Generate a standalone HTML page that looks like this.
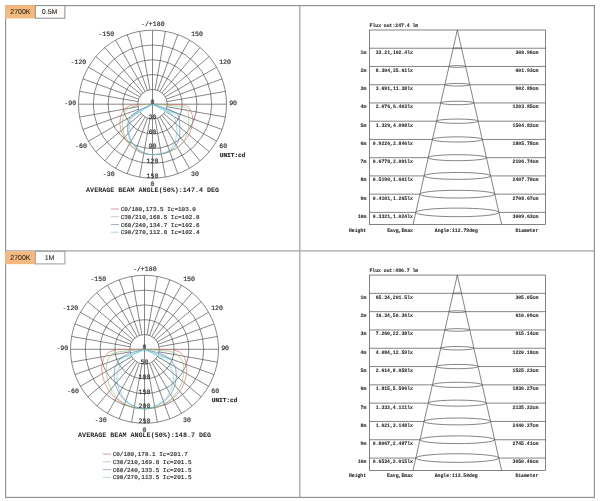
<!DOCTYPE html>
<html lang="en">
<head>
<meta charset="utf-8">
<title>Photometric data</title>
<style>
html,body{margin:0;padding:0;background:#fff;}
body{width:600px;height:501px;position:relative;overflow:hidden;font-family:"Liberation Sans",sans-serif;}
svg .tg text{font-family:"Liberation Sans",sans-serif;font-size:7px;text-anchor:middle;fill:#3a3026;stroke:#3a3026;stroke-width:0.12px;}
svg{position:absolute;left:0;top:0;}
svg text{font-family:"Liberation Mono",monospace;fill:#2a2a2a;text-rendering:geometricPrecision;}
.al text{font-size:6.6px;text-anchor:middle;stroke:#2a2a2a;stroke-width:0.15px;}
.b{font-weight:bold;}
.unit{font-size:6.1px;text-anchor:middle;stroke:#2a2a2a;stroke-width:0.2px;}
.beam{font-size:6.72px;text-anchor:middle;}
.lg text{font-size:5.98px;stroke:#2a2a2a;stroke-width:0.15px;}
.ct text{font-size:5.2px;font-weight:bold;stroke:#2a2a2a;stroke-width:0.1px;}
.ct .e{text-anchor:end;}
</style>
</head>
<body>
<svg width="600" height="501" viewBox="0 0 600 501">
<g class="fr" fill="none">
<rect x="5.6" y="5.6" width="588.8" height="491.8" stroke="#8a8a8a" stroke-width="1.1"/>
<path stroke="#a6a6a6" stroke-width="1.3" d="M299.8 6V497M6 250.9H594"/>
<rect x="5.1" y="5.1" width="30.2" height="13.3" fill="#f5b97f"/>
<rect x="35.3" y="5.6" width="29.6" height="12.6" fill="#fff" stroke="#8a8a8a" stroke-width="1"/>
<rect x="5.1" y="251.3" width="30.2" height="12.9" fill="#f5b97f"/>
<rect x="35.3" y="251.3" width="29.6" height="12.6" fill="#fff" stroke="#9a9a9a" stroke-width="1"/>
</g>
<g class="tg">
<text x="20.4" y="14.2">2700K</text>
<text x="49.6" y="14.2">0.5M</text>
<text x="20.4" y="259.9">2700K</text>
<text x="49.6" y="259.9">1M</text>
</g>
<g class="pg" fill="none" stroke="#444444" stroke-width="0.64">
<circle cx="152.5" cy="104.2" r="14.8"/>
<circle cx="152.5" cy="104.2" r="29.6"/>
<circle cx="152.5" cy="104.2" r="44.4"/>
<circle cx="152.5" cy="104.2" r="59.2"/>
<circle cx="152.5" cy="104.2" r="74"/>
<path d="M152.5 104.2L226.5 104.2M167.08 106.77L225.38 117.05M166.41 109.26L222.04 129.51M165.32 111.6L216.59 141.2M163.84 113.71L209.19 151.77M162.01 115.54L200.07 160.89M159.9 117.02L189.5 168.29M157.56 118.11L177.81 173.74M155.07 118.78L165.35 177.08M152.5 104.2L152.5 178.2M149.93 118.78L139.65 177.08M147.44 118.11L127.19 173.74M145.1 117.02L115.5 168.29M142.99 115.54L104.93 160.89M141.16 113.71L95.81 151.77M139.68 111.6L88.41 141.2M138.59 109.26L82.96 129.51M137.92 106.77L79.62 117.05M152.5 104.2L78.5 104.2M137.92 101.63L79.62 91.35M138.59 99.14L82.96 78.89M139.68 96.8L88.41 67.2M141.16 94.69L95.81 56.63M142.99 92.86L104.93 47.51M145.1 91.38L115.5 40.11M147.44 90.29L127.19 34.66M149.93 89.62L139.65 31.32M152.5 104.2L152.5 30.2M155.07 89.62L165.35 31.32M157.56 90.29L177.81 34.66M159.9 91.38L189.5 40.11M162.01 92.86L200.07 47.51M163.84 94.69L209.19 56.63M165.32 96.8L216.59 67.2M166.41 99.14L222.04 78.89M167.08 101.63L225.38 91.35"/>
</g>
<g class="cv" fill="none" stroke-width="0.66" stroke-linejoin="round">
<path stroke="#b0e0e6" d="M152.5 104.2L130 117.2L152.5 104.2L131 115.2L152.5 104.2L134.5 113.2L152.5 104.2L137.5 111.4L152.5 104.2L167.5 110.2L152.5 104.2L170.5 112.7L152.5 104.2L174.5 116.2L152.5 104.2L176 114.2L152.5 104.2"/>
<path stroke="#d86c6c" d="M152.5 104.2L138.5 104.5L130.5 105.1L124.3 109L122.1 112.2L120.3 118.2L119.9 124.2L121.3 131.2L125 139.2L130.9 146.2L138.5 151.5L145.5 154L152.5 154.7L159.5 154.2L167.5 152.4L175.9 148.4L182.7 143.2L187.8 137.2L191.3 129.2L192.8 121.2L192.3 115.2L189.9 109.2L185.5 105.2L179.5 104.5L152.5 104.2"/>
<path stroke="#84c484" d="M152.5 104.2L138.5 105.2L131.9 106.8L126.5 109.5L124.7 112.2L122.9 118.2L122.5 125.2L123.7 133.2L127.5 141.2L133.5 147.7L140.5 152.2L146.5 154.2L152.5 154.7L158.5 154.5L164.5 153.5L172.5 150.7L179.5 146.2L184.5 140.2L187.8 132.2L188.8 124.2L189 117.2L188 111.2L184.5 107.2L179.5 106.2L152.5 104.2"/>
<path stroke="#5c84b0" d="M152.5 104.2L139.5 109.9L130.3 116.6L127.9 123.1L127.5 131.2L130.2 140.2L135.5 147.2L141.5 151.7L147.5 154.2L152.5 154.7L158.5 154.4L165.5 153L172.5 149.2L177.5 143.2L179.7 136.2L180.1 128.2L179.1 117.7L177.4 113.3L167.7 109L152.5 104.2"/>
<path stroke="#78cad4" d="M152.5 104.2L140 111.6L131.9 117.5L129.2 124L128.7 132.7L132 142.7L137.5 149.2L143.5 152.8L148.5 154.4L152.5 154.6L157.5 154.4L164.5 152.8L170.5 149.2L175.3 142.2L177 131.7L176.3 123.1L174.2 116.6L166.6 110.6L152.5 104.2"/>
</g>
<g class="al">
<text transform="translate(152.8 26) scale(1 1)">-/+180</text>
<text transform="translate(106.2 36) scale(1 1)">-150</text>
<text transform="translate(197.1 36) scale(1 1)">150</text>
<text transform="translate(78.4 64.4) scale(1 1)">-120</text>
<text transform="translate(225.1 64.4) scale(1 1)">120</text>
<text transform="translate(70.3 104.7) scale(1 1)">-90</text>
<text transform="translate(233.1 104.9) scale(1 1)">90</text>
<text transform="translate(80.9 148) scale(1 1)">-60</text>
<text transform="translate(223.3 148) scale(1 1)">60</text>
<text transform="translate(108.7 176.4) scale(1 1)">-30</text>
<text transform="translate(194.9 176.4) scale(1 1)">30</text>
<text transform="translate(152.5 186.4) scale(1 1)">0</text>
<text transform="translate(152.5 104.2) scale(1 1)">0</text>
<text transform="translate(152.5 118.96) scale(1 1)">30</text>
<text transform="translate(152.5 133.72) scale(1 1)">60</text>
<text transform="translate(152.5 148.48) scale(1 1)">90</text>
<text transform="translate(152.5 163.24) scale(1 1)">120</text>
<text transform="translate(152.5 178) scale(1 1)">150</text>
</g>
<text class="b unit" x="232.6" y="157.3">UNIT:cd</text>
<text class="b beam" x="152.6" y="192">AVERAGE BEAM ANGLE(50%):147.4 DEG</text>
<g class="lg">
<path stroke="#c26a6a" stroke-width="0.65" d="M110.9 209H119"/>
<text x="120.7" y="211.1">C0/180,173.5 Ic=103.0</text>
<path stroke="#96b896" stroke-width="0.65" d="M110.9 216.75H119"/>
<text x="120.7" y="218.85">C30/210,168.5 Ic=102.8</text>
<path stroke="#6c88a8" stroke-width="0.65" d="M110.9 224.5H119"/>
<text x="120.7" y="226.6">C60/240,134.7 Ic=102.6</text>
<path stroke="#8cc4cc" stroke-width="0.65" d="M110.9 232.25H119"/>
<text x="120.7" y="234.35">C90/270,112.8 Ic=102.4</text>
</g>
<g class="cg" fill="none" stroke="#444444" stroke-width="0.66">
<rect x="369.55" y="30" width="176" height="194.4"/>
<path d="M369.55 48.24H453.19M461.51 48.24H545.55M369.55 66.48H449.04M465.66 66.48H545.55M369.55 84.72H444.88M469.82 84.72H545.55M369.55 102.96H440.72M473.98 102.96H545.55M369.55 121.2H436.57M478.13 121.2H545.55M369.55 139.44H432.41M482.29 139.44H545.55M369.55 157.68H428.25M486.45 157.68H545.55M369.55 175.92H424.1M490.6 175.92H545.55M369.55 194.16H419.94M494.76 194.16H545.55M369.55 212.4H415.78M498.92 212.4H545.55M413.05 224.4L457.35 30L501.65 224.4"/>
<ellipse cx="457.35" cy="48.24" rx="4.16" ry="0.43"/>
<ellipse cx="457.35" cy="66.48" rx="8.31" ry="0.86"/>
<ellipse cx="457.35" cy="84.72" rx="12.47" ry="1.29"/>
<ellipse cx="457.35" cy="102.96" rx="16.63" ry="1.72"/>
<ellipse cx="457.35" cy="121.2" rx="20.78" ry="2.15"/>
<ellipse cx="457.35" cy="139.44" rx="24.94" ry="2.58"/>
<ellipse cx="457.35" cy="157.68" rx="29.1" ry="3.01"/>
<ellipse cx="457.35" cy="175.92" rx="33.25" ry="3.44"/>
<ellipse cx="457.35" cy="194.16" rx="37.41" ry="3.87"/>
<ellipse cx="457.35" cy="212.4" rx="41.57" ry="4.3"/>
</g>
<g class="ct">
<text transform="translate(369.55 26.8) scale(0.92 1)">Flux out:247.4 lm</text>
<text class="e" transform="translate(366.35 53.64) scale(0.92 1)">1m</text>
<text class="e" transform="translate(412.95 53.64) scale(0.92 1)">33.21,102.4lx</text>
<text class="e" transform="translate(538.35 53.64) scale(0.92 1)">300.96cm</text>
<text class="e" transform="translate(366.35 71.88) scale(0.92 1)">2m</text>
<text class="e" transform="translate(412.95 71.88) scale(0.92 1)">8.304,25.61lx</text>
<text class="e" transform="translate(538.35 71.88) scale(0.92 1)">601.93cm</text>
<text class="e" transform="translate(366.35 90.12) scale(0.92 1)">3m</text>
<text class="e" transform="translate(412.95 90.12) scale(0.92 1)">3.691,11.38lx</text>
<text class="e" transform="translate(538.35 90.12) scale(0.92 1)">902.89cm</text>
<text class="e" transform="translate(366.35 108.36) scale(0.92 1)">4m</text>
<text class="e" transform="translate(412.95 108.36) scale(0.92 1)">2.076,6.403lx</text>
<text class="e" transform="translate(538.35 108.36) scale(0.92 1)">1203.85cm</text>
<text class="e" transform="translate(366.35 126.6) scale(0.92 1)">5m</text>
<text class="e" transform="translate(412.95 126.6) scale(0.92 1)">1.329,4.098lx</text>
<text class="e" transform="translate(538.35 126.6) scale(0.92 1)">1504.82cm</text>
<text class="e" transform="translate(366.35 144.84) scale(0.92 1)">6m</text>
<text class="e" transform="translate(412.95 144.84) scale(0.92 1)">0.9226,2.846lx</text>
<text class="e" transform="translate(538.35 144.84) scale(0.92 1)">1805.78cm</text>
<text class="e" transform="translate(366.35 163.08) scale(0.92 1)">7m</text>
<text class="e" transform="translate(412.95 163.08) scale(0.92 1)">0.6778,2.091lx</text>
<text class="e" transform="translate(538.35 163.08) scale(0.92 1)">2106.74cm</text>
<text class="e" transform="translate(366.35 181.32) scale(0.92 1)">8m</text>
<text class="e" transform="translate(412.95 181.32) scale(0.92 1)">0.5190,1.601lx</text>
<text class="e" transform="translate(538.35 181.32) scale(0.92 1)">2407.70cm</text>
<text class="e" transform="translate(366.35 199.56) scale(0.92 1)">9m</text>
<text class="e" transform="translate(412.95 199.56) scale(0.92 1)">0.4101,1.265lx</text>
<text class="e" transform="translate(538.35 199.56) scale(0.92 1)">2708.67cm</text>
<text class="e" transform="translate(366.35 217.8) scale(0.92 1)">10m</text>
<text class="e" transform="translate(412.95 217.8) scale(0.92 1)">0.3321,1.024lx</text>
<text class="e" transform="translate(538.35 217.8) scale(0.92 1)">3009.63cm</text>
<text class="e" transform="translate(366.15 231.8) scale(0.92 1)">Height</text>
<text class="e" transform="translate(412.95 231.8) scale(0.92 1)">Eavg,Emax</text>
<text class="e" transform="translate(477.75 231.8) scale(0.92 1)">Angle:112.79deg</text>
<text class="e" transform="translate(538.35 231.8) scale(0.92 1)">Diameter</text>
</g>
<g class="pg" fill="none" stroke="#444444" stroke-width="0.64">
<circle cx="144.5" cy="349.3" r="14.8"/>
<circle cx="144.5" cy="349.3" r="29.6"/>
<circle cx="144.5" cy="349.3" r="44.4"/>
<circle cx="144.5" cy="349.3" r="59.2"/>
<circle cx="144.5" cy="349.3" r="74"/>
<path d="M144.5 349.3L218.5 349.3M159.08 351.87L217.38 362.15M158.41 354.36L214.04 374.61M157.32 356.7L208.59 386.3M155.84 358.81L201.19 396.87M154.01 360.64L192.07 405.99M151.9 362.12L181.5 413.39M149.56 363.21L169.81 418.84M147.07 363.88L157.35 422.18M144.5 349.3L144.5 423.3M141.93 363.88L131.65 422.18M139.44 363.21L119.19 418.84M137.1 362.12L107.5 413.39M134.99 360.64L96.93 405.99M133.16 358.81L87.81 396.87M131.68 356.7L80.41 386.3M130.59 354.36L74.96 374.61M129.92 351.87L71.62 362.15M144.5 349.3L70.5 349.3M129.92 346.73L71.62 336.45M130.59 344.24L74.96 323.99M131.68 341.9L80.41 312.3M133.16 339.79L87.81 301.73M134.99 337.96L96.93 292.61M137.1 336.48L107.5 285.21M139.44 335.39L119.19 279.76M141.93 334.72L131.65 276.42M144.5 349.3L144.5 275.3M147.07 334.72L157.35 276.42M149.56 335.39L169.81 279.76M151.9 336.48L181.5 285.21M154.01 337.96L192.07 292.61M155.84 339.79L201.19 301.73M157.32 341.9L208.59 312.3M158.41 344.24L214.04 323.99M159.08 346.73L217.38 336.45"/>
</g>
<g class="cv" fill="none" stroke-width="0.66" stroke-linejoin="round">
<path stroke="#b0e0e6" d="M144.5 349.3L118.5 359.8L144.5 349.3L121.5 358.3L144.5 349.3L124.5 356.9L144.5 349.3L128.5 355.3L144.5 349.3L160.5 355.3L144.5 349.3L164.5 357.3L144.5 349.3L168.5 359.8L144.5 349.3L170.5 359.3L144.5 349.3"/>
<path stroke="#d86c6c" d="M144.5 349.3L116.5 349.6L108.5 352.3L103.5 358.3L101.7 366.3L102.2 374.3L104.5 382.3L108.5 390.3L114.5 397.3L122.5 403.3L131.5 407.1L138.5 408.5L144.5 408.9L150.5 408.5L157.5 407.1L166.5 403.3L174.5 397.3L180.5 390.3L184.5 382.3L186.7 373.3L186.5 365.3L184.5 357.3L179.5 351.8L172.5 349.6L144.5 349.3"/>
<path stroke="#84c484" d="M144.5 349.3L118.5 351.8L111.5 354.3L107.5 360.3L106.2 367.3L106.5 375.3L108.5 383.3L112 391.3L117.5 398.3L124.5 403.8L132.5 407.3L138.5 408.5L144.5 408.8L150.5 408.5L156.5 407.3L164.5 403.8L172 398.3L177.5 391.3L181.5 383.3L183.5 375.3L184 367.3L182 360.3L177.5 354.3L170.5 351.3L144.5 349.3"/>
<path stroke="#5c84b0" d="M144.5 349.3L128.5 353.3L119.5 359.3L115 367.3L114 376.3L115.5 385.3L119 393.3L124.5 400.3L131.5 405.3L138.5 408.3L144.5 408.8L150.5 408.3L157.5 405.3L165.5 400.3L171.5 393.3L175 385.3L176.5 376.3L175.5 367.3L170.5 359.3L160.5 353.3L144.5 349.3"/>
<path stroke="#78cad4" d="M144.5 349.3L130.5 356.3L121.5 363.3L117.5 371.3L116.7 379.3L118.5 388.3L122.5 396.3L128.5 402.8L135.5 407.1L140.5 408.5L144.5 408.7L148.5 408.5L153.5 407.1L161.5 402.8L167.5 396.3L171.5 388.3L173.5 379.3L173 371.3L168.5 363.3L158.5 356.3L144.5 349.3"/>
</g>
<g class="al">
<text transform="translate(144.8 271.1) scale(1 1)">-/+180</text>
<text transform="translate(98.2 281.1) scale(1 1)">-150</text>
<text transform="translate(189.1 281.1) scale(1 1)">150</text>
<text transform="translate(70.4 309.5) scale(1 1)">-120</text>
<text transform="translate(217.1 309.5) scale(1 1)">120</text>
<text transform="translate(62.3 349.8) scale(1 1)">-90</text>
<text transform="translate(225.1 350) scale(1 1)">90</text>
<text transform="translate(72.9 393.1) scale(1 1)">-60</text>
<text transform="translate(215.3 393.1) scale(1 1)">60</text>
<text transform="translate(100.7 421.5) scale(1 1)">-30</text>
<text transform="translate(186.9 421.5) scale(1 1)">30</text>
<text transform="translate(144.5 431.5) scale(1 1)">0</text>
<text transform="translate(144.5 349.3) scale(1 1)">0</text>
<text transform="translate(144.5 364.06) scale(1 1)">50</text>
<text transform="translate(144.5 378.82) scale(1 1)">100</text>
<text transform="translate(144.5 393.58) scale(1 1)">150</text>
<text transform="translate(144.5 408.34) scale(1 1)">200</text>
<text transform="translate(144.5 423.1) scale(1 1)">250</text>
</g>
<text class="b unit" x="224.6" y="402.4">UNIT:cd</text>
<text class="b beam" x="144.6" y="437.1">AVERAGE BEAM ANGLE(50%):148.7 DEG</text>
<g class="lg">
<path stroke="#c26a6a" stroke-width="0.65" d="M102.9 454.1H111"/>
<text x="112.7" y="456.2">C0/180,178.1 Ic=201.7</text>
<path stroke="#96b896" stroke-width="0.65" d="M102.9 461.85H111"/>
<text x="112.7" y="463.95">C30/210,169.8 Ic=201.5</text>
<path stroke="#6c88a8" stroke-width="0.65" d="M102.9 469.6H111"/>
<text x="112.7" y="471.7">C60/240,133.5 Ic=201.5</text>
<path stroke="#8cc4cc" stroke-width="0.65" d="M102.9 477.35H111"/>
<text x="112.7" y="479.45">C90/270,113.5 Ic=201.5</text>
</g>
<g class="cg" fill="none" stroke="#444444" stroke-width="0.66">
<rect x="369.5" y="275.05" width="176" height="195.35"/>
<path d="M369.5 293.35H453.15M461.45 293.35H545.5M369.5 311.65H449M465.6 311.65H545.5M369.5 329.95H444.85M469.75 329.95H545.5M369.5 348.25H440.7M473.9 348.25H545.5M369.5 366.55H436.55M478.05 366.55H545.5M369.5 384.85H432.4M482.2 384.85H545.5M369.5 403.15H428.25M486.35 403.15H545.5M369.5 421.45H424.1M490.5 421.45H545.5M369.5 439.75H419.95M494.65 439.75H545.5M369.5 458.05H415.8M498.8 458.05H545.5M413 470.4L457.3 275.05L501.6 470.4"/>
<ellipse cx="457.3" cy="293.35" rx="4.15" ry="0.43"/>
<ellipse cx="457.3" cy="311.65" rx="8.3" ry="0.86"/>
<ellipse cx="457.3" cy="329.95" rx="12.45" ry="1.29"/>
<ellipse cx="457.3" cy="348.25" rx="16.6" ry="1.72"/>
<ellipse cx="457.3" cy="366.55" rx="20.75" ry="2.15"/>
<ellipse cx="457.3" cy="384.85" rx="24.9" ry="2.58"/>
<ellipse cx="457.3" cy="403.15" rx="29.05" ry="3.01"/>
<ellipse cx="457.3" cy="421.45" rx="33.2" ry="3.44"/>
<ellipse cx="457.3" cy="439.75" rx="37.35" ry="3.87"/>
<ellipse cx="457.3" cy="458.05" rx="41.5" ry="4.3"/>
</g>
<g class="ct">
<text transform="translate(369.5 271.85) scale(0.92 1)">Flux out:486.7 lm</text>
<text class="e" transform="translate(366.3 298.75) scale(0.92 1)">1m</text>
<text class="e" transform="translate(412.9 298.75) scale(0.92 1)">65.34,201.5lx</text>
<text class="e" transform="translate(538.3 298.75) scale(0.92 1)">305.05cm</text>
<text class="e" transform="translate(366.3 317.05) scale(0.92 1)">2m</text>
<text class="e" transform="translate(412.9 317.05) scale(0.92 1)">16.34,50.36lx</text>
<text class="e" transform="translate(538.3 317.05) scale(0.92 1)">610.09cm</text>
<text class="e" transform="translate(366.3 335.35) scale(0.92 1)">3m</text>
<text class="e" transform="translate(412.9 335.35) scale(0.92 1)">7.260,22.38lx</text>
<text class="e" transform="translate(538.3 335.35) scale(0.92 1)">915.14cm</text>
<text class="e" transform="translate(366.3 353.65) scale(0.92 1)">4m</text>
<text class="e" transform="translate(412.9 353.65) scale(0.92 1)">4.084,12.59lx</text>
<text class="e" transform="translate(538.3 353.65) scale(0.92 1)">1220.18cm</text>
<text class="e" transform="translate(366.3 371.95) scale(0.92 1)">5m</text>
<text class="e" transform="translate(412.9 371.95) scale(0.92 1)">2.614,8.058lx</text>
<text class="e" transform="translate(538.3 371.95) scale(0.92 1)">1525.23cm</text>
<text class="e" transform="translate(366.3 390.25) scale(0.92 1)">6m</text>
<text class="e" transform="translate(412.9 390.25) scale(0.92 1)">1.815,5.596lx</text>
<text class="e" transform="translate(538.3 390.25) scale(0.92 1)">1830.27cm</text>
<text class="e" transform="translate(366.3 408.55) scale(0.92 1)">7m</text>
<text class="e" transform="translate(412.9 408.55) scale(0.92 1)">1.333,4.111lx</text>
<text class="e" transform="translate(538.3 408.55) scale(0.92 1)">2135.32cm</text>
<text class="e" transform="translate(366.3 426.85) scale(0.92 1)">8m</text>
<text class="e" transform="translate(412.9 426.85) scale(0.92 1)">1.021,3.148lx</text>
<text class="e" transform="translate(538.3 426.85) scale(0.92 1)">2440.37cm</text>
<text class="e" transform="translate(366.3 445.15) scale(0.92 1)">9m</text>
<text class="e" transform="translate(412.9 445.15) scale(0.92 1)">0.8067,2.487lx</text>
<text class="e" transform="translate(538.3 445.15) scale(0.92 1)">2745.41cm</text>
<text class="e" transform="translate(366.3 463.45) scale(0.92 1)">10m</text>
<text class="e" transform="translate(412.9 463.45) scale(0.92 1)">0.6534,2.015lx</text>
<text class="e" transform="translate(538.3 463.45) scale(0.92 1)">3050.46cm</text>
<text class="e" transform="translate(366.1 477.4) scale(0.92 1)">Height</text>
<text class="e" transform="translate(412.9 477.4) scale(0.92 1)">Eavg,Emax</text>
<text class="e" transform="translate(477.7 477.4) scale(0.92 1)">Angle:113.50deg</text>
<text class="e" transform="translate(538.3 477.4) scale(0.92 1)">Diameter</text>
</g>
</svg>
</body>
</html>
